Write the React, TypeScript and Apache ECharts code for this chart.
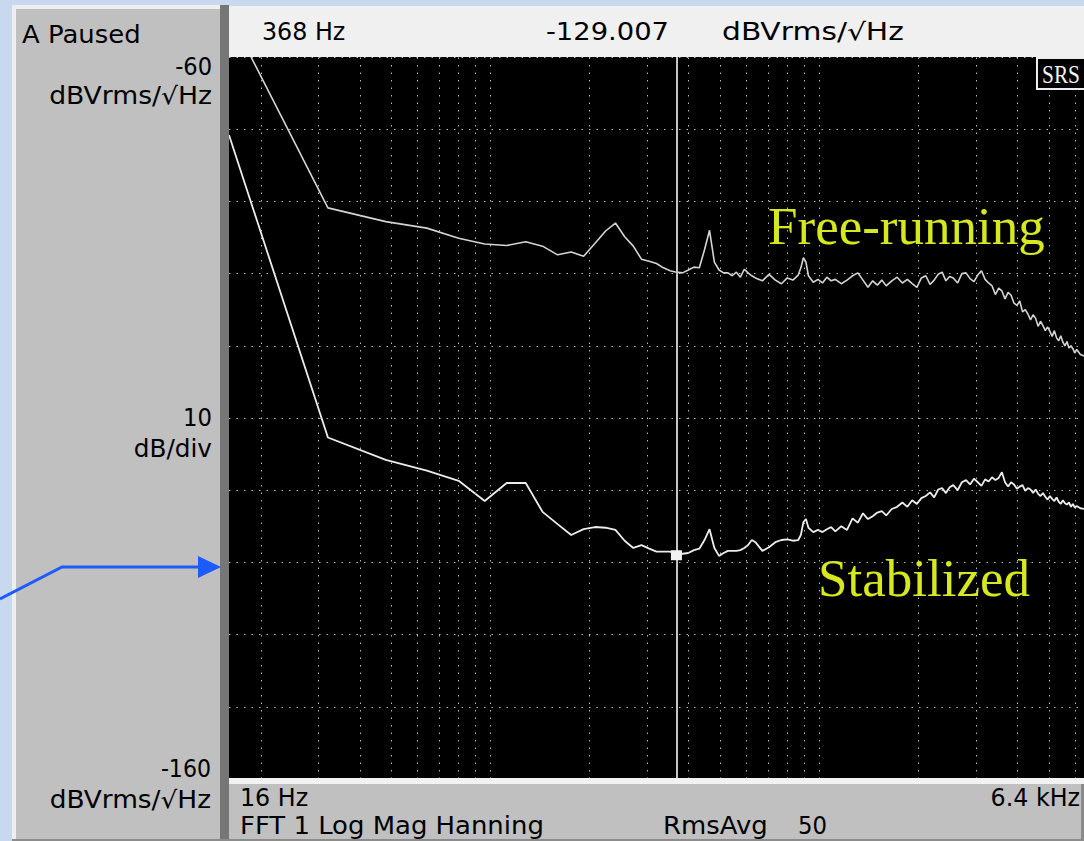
import React, { useEffect, useRef } from "react";
import * as echarts from "echarts";

// FFT bins (Hz), 16 Hz line spacing, 16 Hz .. 6.4 kHz
const FREQ_HZ = [
  16, 32, 48, 64, 80, 96, 112, 128, 144, 160,
  176, 192, 208, 224, 240, 256, 272, 288, 304, 320,
  336, 352, 368, 384, 400, 416, 432, 448, 464, 480,
  496, 512, 528, 544, 560, 576, 592, 608, 624, 640,
  672, 704, 736, 768, 800, 832, 864, 880, 896, 912,
  928, 960, 992, 1024, 1056, 1088, 1120, 1168, 1216, 1264,
  1312, 1360, 1408, 1456, 1504, 1552, 1600, 1664, 1728, 1792,
  1856, 1920, 1984, 2048, 2112, 2176, 2240, 2304, 2368, 2432,
  2496, 2560, 2640, 2720, 2800, 2880, 2960, 3040, 3120, 3200,
  3280, 3360, 3440, 3520, 3600, 3680, 3760, 3840, 3920, 4000,
  4080, 4160, 4240, 4320, 4400, 4480, 4560, 4640, 4720, 4800,
  4880, 4960, 5040, 5120, 5200, 5280, 5360, 5440, 5520, 5600,
  5680, 5760, 5840, 5920, 6000, 6080, 6240, 6400,
];

// dBVrms/√Hz
const FREE_RUNNING_DB = [
  -54, -80.9, -82.8, -83.7, -85.1, -85.9, -86.1, -85.6, -86.2, -87.4,
  -87.0, -87.6, -85.8, -84.1, -83.0, -84.9, -86.2, -88.0, -88.3, -88.6,
  -89.2, -89.6, -89.8, -89.9, -89.5, -89.1, -89.2, -86.7, -84.0, -88.4,
  -89.5, -89.9, -89.9, -90.3, -89.8, -90.5, -89.4, -89.9, -90.3, -90.6,
  -91.0, -90.1, -90.9, -91.4, -90.6, -90.9, -90.2, -89.2, -87.8, -88.4,
  -90.3, -91.2, -90.8, -91.3, -90.5, -91.0, -90.8, -91.4, -90.9, -90.3,
  -89.9, -90.9, -91.9, -91.0, -91.6, -90.9, -91.7, -91.0, -90.5, -91.3,
  -90.8, -91.4, -91.9, -90.6, -90.3, -91.5, -90.9, -90.1, -89.8, -91.0,
  -90.4, -90.6, -91.3, -90.0, -89.9, -90.7, -91.1, -90.2, -89.6, -90.8,
  -91.3, -91.7, -92.9, -92.0, -92.4, -93.5, -92.6, -93.0, -94.1, -94.4,
  -93.8, -95.3, -95.0, -95.6, -96.4, -95.7, -96.2, -97.3, -96.6, -97.2,
  -97.9, -97.4, -98.0, -98.7, -97.9, -98.9, -99.3, -98.6, -99.5, -100.0,
  -99.4, -100.3, -100.0, -100.4, -101.0, -100.5, -101.2, -101.4,
];

const STABILIZED_DB = [
  -70.8, -112.7, -115.8, -117.3, -118.7, -121.5, -119.0, -119.0, -123.0, -124.7,
  -126.2, -125.4, -125.1, -125.2, -125.5, -127.0, -128.0, -127.6, -128.1, -128.5,
  -128.5, -128.5, -129.0, -128.8, -128.7, -128.3, -128.1, -126.9, -125.4, -128.0,
  -129.1, -128.7, -128.4, -128.4, -128.4, -128.3, -128.0, -127.6, -126.9, -127.2,
  -128.4, -127.9, -127.2, -126.9, -126.8, -127.0, -126.9, -126.2, -124.4, -124.0,
  -125.2, -125.8, -125.5, -125.8, -125.4, -125.1, -125.7, -125.0, -125.5, -123.9,
  -124.5, -123.2, -124.0, -123.6, -123.1, -122.9, -123.5, -122.6, -122.3, -121.7,
  -122.3, -121.4, -121.9, -121.1, -120.8, -120.3, -121.0, -119.9, -119.7, -120.4,
  -119.6, -119.3, -120.0, -118.9, -118.6, -119.2, -118.4, -118.9, -119.4, -118.5,
  -118.8, -118.2, -118.6, -118.3, -117.5, -118.9, -119.5, -118.9, -119.2, -119.8,
  -119.5, -119.3, -120.1, -119.7, -119.9, -120.4, -119.9, -120.5, -120.8, -120.4,
  -120.9, -121.3, -120.8, -121.2, -121.5, -121.0, -121.6, -121.9, -121.4, -121.8,
  -122.0, -121.7, -122.3, -121.9, -122.4, -122.2, -122.5, -122.6,
];

const GRID_FREQ_HZ = [
  20, 30, 40, 50, 60, 70, 80, 90, 100,
  200, 300, 400, 500, 600, 700, 800, 900, 1000,
  2000, 3000, 4000, 5000, 6000,
];

const X_MIN_HZ = 16;
const X_MAX_HZ = 6400;
const Y_MIN_DB = -160;
const Y_MAX_DB = -60;
const Y_STEP_DB = 10;

const CURSOR_HZ = 368;
const CURSOR_DB = -129.007;

const HEADER_TEXTS = ["368 Hz", "-129.007", "dBVrms/√Hz"];
const LEFT_TEXTS = ["A Paused", "-60", "dBVrms/√Hz", "10", "dB/div", "-160", "dBVrms/√Hz"];
const BOTTOM_TEXTS = ["16 Hz", "FFT 1 Log Mag Hanning", "6.4 kHz", "RmsAvg", "50"];
const LABEL_FREE = "Free-running";
const LABEL_STAB = "Stabilized";

export default function App() {
  const ref = useRef<HTMLDivElement>(null);

  useEffect(() => {
    document.body.style.margin = "0";
    const chart = echarts.init(ref.current!, undefined, { renderer: "svg" });
    const SANS = "DejaVu Sans";
    const SERIF = "Liberation Serif";

    const txt = (text: string, x: number, y: number, align: string, sx: number, size = 24) => ({
      type: "text",
      x,
      y,
      scaleX: sx,
      z: 30,
      silent: true,
      style: {
        text,
        fill: "#000",
        fontSize: size,
        fontFamily: SANS,
        align,
        textAlign: align,
        verticalAlign: "middle",
        textVerticalAlign: "middle",
      },
    });

    const rect = (x: number, y: number, w: number, h: number, fill: string, z = 10) => ({
      type: "rect",
      z,
      silent: true,
      shape: { x, y, width: w, height: h },
      style: { fill },
    });

    const freeData = FREQ_HZ.map((f, i) => [f, FREE_RUNNING_DB[i]]);
    const stabData = FREQ_HZ.map((f, i) => [f, STABILIZED_DB[i]]);
    const dotted = { type: [1.5, 6], color: "#b6b6b6", width: 1 };

    chart.setOption({
      animation: false,
      backgroundColor: "#c8d8ee",
      grid: {
        left: 229,
        top: 57,
        right: -5,
        bottom: 62,
        show: true,
        backgroundColor: "#000000",
        borderWidth: 0,
      },
      xAxis: {
        type: "log",
        logBase: 10,
        min: X_MIN_HZ,
        max: X_MAX_HZ,
        axisLine: { show: false },
        axisTick: { show: false },
        axisLabel: { show: false },
        splitLine: { show: false },
      },
      yAxis: {
        type: "value",
        min: Y_MIN_DB,
        max: Y_MAX_DB,
        interval: Y_STEP_DB,
        axisLine: { show: false },
        axisTick: { show: false },
        axisLabel: { show: false },
        splitLine: { show: true, lineStyle: dotted },
      },
      series: [
        {
          type: "line",
          name: "grid",
          data: [],
          z: 1,
          silent: true,
          markLine: {
            silent: true,
            animation: false,
            symbol: ["none", "none"],
            label: { show: false },
            lineStyle: dotted,
            emphasis: { disabled: true },
            data: GRID_FREQ_HZ.map((f) => ({ xAxis: f })),
          },
        },
        {
          type: "line",
          name: LABEL_FREE,
          data: freeData,
          showSymbol: false,
          symbol: "none",
          silent: true,
          z: 3,
          lineStyle: { color: "#d4d4d4", width: 1.6 },
        },
        {
          type: "line",
          name: LABEL_STAB,
          data: stabData,
          showSymbol: false,
          symbol: "none",
          silent: true,
          z: 4,
          lineStyle: { color: "#ececec", width: 1.8 },
          markLine: {
            silent: true,
            animation: false,
            symbol: ["none", "none"],
            label: { show: false },
            lineStyle: { type: "solid", color: "#c4c4c4", width: 2 },
            emphasis: { disabled: true },
            data: [{ xAxis: CURSOR_HZ }],
          },
          markPoint: {
            silent: true,
            animation: false,
            symbol: "rect",
            symbolSize: [11, 10],
            itemStyle: { color: "#f2f2f2" },
            label: { show: false },
            data: [{ coord: [CURSOR_HZ, CURSOR_DB] }],
          },
        },
      ],
      graphic: [
        // left panel
        rect(12, 5, 210, 836, "#eeeeee"),
        rect(16, 9, 206, 832, "#c0c0c0"),
        rect(220, 5, 9, 836, "#767676"),
        // header
        rect(229, 6, 855, 51, "#f0f0f0"),
        // bottom panel
        rect(229, 778, 855, 6, "#f2f2f2"),
        rect(229, 784, 855, 57, "#c0c0c0"),
        rect(1081, 784, 3, 57, "#8a8a8a"),
        rect(12, 839, 1072, 2, "#8c8c8c"),
        // SRS logo
        {
          type: "rect",
          z: 25,
          silent: true,
          shape: { x: 1037, y: 58, width: 52, height: 31 },
          style: { fill: "#000", stroke: "#eeeeee", lineWidth: 2 },
        },
        {
          type: "text",
          x: 1061,
          y: 74,
          scaleX: 0.82,
          z: 26,
          silent: true,
          style: {
            text: "SRS",
            fill: "#f4f4f4",
            fontSize: 26,
            fontFamily: SERIF,
            align: "center",
            textAlign: "center",
            verticalAlign: "middle",
            textVerticalAlign: "middle",
          },
        },
        // header texts
        txt(HEADER_TEXTS[0], 262, 32, "left", 0.99, 24),
        txt(HEADER_TEXTS[1], 546, 32, "left", 1.14, 24),
        txt(HEADER_TEXTS[2], 722, 32, "left", 1.24, 24),
        // left texts
        txt(LEFT_TEXTS[0], 22, 35, "left", 1.08, 24),
        txt(LEFT_TEXTS[1], 212, 66, "right", 0.94, 24),
        txt(LEFT_TEXTS[2], 212, 95, "right", 1.11, 24),
        txt(LEFT_TEXTS[3], 212, 418, "right", 0.95, 24),
        txt(LEFT_TEXTS[4], 212, 449, "right", 1.03, 24),
        txt(LEFT_TEXTS[5], 211, 769, "right", 0.92, 24),
        txt(LEFT_TEXTS[6], 211, 800, "right", 1.1, 24),
        // bottom texts
        txt(BOTTOM_TEXTS[0], 240, 798, "left", 0.99, 24),
        txt(BOTTOM_TEXTS[1], 240, 826, "left", 1.08, 24),
        txt(BOTTOM_TEXTS[2], 1080, 798, "right", 0.99, 24),
        txt(BOTTOM_TEXTS[3], 663, 826, "left", 1.08, 24),
        txt(BOTTOM_TEXTS[4], 798, 826, "left", 0.95, 24),
        // yellow annotations
        {
          type: "text",
          x: 768,
          y: 226,
          z: 40,
          silent: true,
          style: {
            text: LABEL_FREE,
            fill: "#d6e81e",
            fontSize: 53,
            fontFamily: SERIF,
            align: "left",
            textAlign: "left",
            verticalAlign: "middle",
            textVerticalAlign: "middle",
          },
        },
        {
          type: "text",
          x: 818,
          y: 578,
          z: 40,
          silent: true,
          style: {
            text: LABEL_STAB,
            fill: "#d6e81e",
            fontSize: 53,
            fontFamily: SERIF,
            align: "left",
            textAlign: "left",
            verticalAlign: "middle",
            textVerticalAlign: "middle",
          },
        },
        // blue arrow
        {
          type: "polyline",
          z: 35,
          silent: true,
          shape: { points: [[0, 599], [62, 567], [200, 567]] },
          style: { stroke: "#1e5bff", lineWidth: 3, fill: null },
        },
        {
          type: "polygon",
          z: 35,
          silent: true,
          shape: { points: [[198, 556], [221, 567], [198, 578]] },
          style: { fill: "#1e5bff" },
        },
      ],
    });

    return () => chart.dispose();
  }, []);

  return (
    <div
      ref={ref}
      style={{ position: "fixed", left: 0, top: 0, width: 1084, height: 841 }}
    />
  );
}
